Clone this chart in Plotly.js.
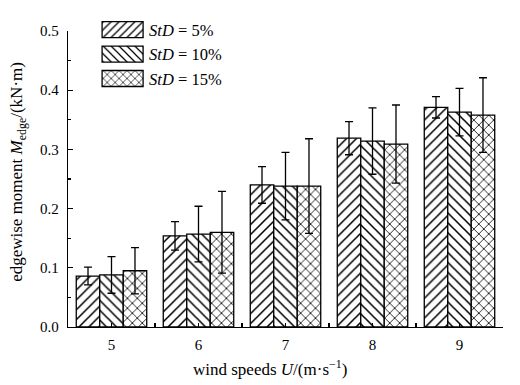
<!DOCTYPE html>
<html><head><meta charset="utf-8">
<script src="https://cdn.plot.ly/plotly-3.0.1.min.js"></script>
<style>html,body{margin:0;padding:0;background:#fff}#chart{width:520px;height:385px}</style>
</head><body><div id="chart"></div>
<script>
const windSpeeds = [5, 6, 7, 8, 9];
const seriesNames = ['<i>StD</i> = 5%', '<i>StD</i> = 10%', '<i>StD</i> = 15%'];
const std5 = [0.086, 0.154, 0.240, 0.319, 0.371];
const std5Err = [0.015, 0.024, 0.031, 0.028, 0.018];
const std10 = [0.088, 0.157, 0.238, 0.314, 0.363];
const std10Err = [0.031, 0.047, 0.057, 0.056, 0.040];
const std15 = [0.095, 0.160, 0.238, 0.309, 0.358];
const std15Err = [0.039, 0.069, 0.080, 0.066, 0.063];
const shapes = ['/', '\\', 'x'];
const values = [std5, std10, std15];
const errors = [std5Err, std10Err, std15Err];

const font = 'Liberation Serif, Times New Roman, serif';
const traces = values.map((v, i) => ({
  type: 'bar', x: windSpeeds, y: v, name: seriesNames[i],
  marker: {color: '#fff', line: {color: '#000', width: 1.3},
           pattern: {shape: shapes[i], fgcolor: '#000', bgcolor: '#fff', size: 7, solidity: 0.22}},
  error_y: {type: 'data', array: errors[i], visible: true, color: '#000', thickness: 1.3, width: 4}
}));

const layout = {
  width: 520, height: 385,
  margin: {l: 68, r: 17, t: 20, b: 58},
  paper_bgcolor: '#fff', plot_bgcolor: '#fff',
  font: {family: font, size: 15, color: '#000'},
  barmode: 'group', bargap: 0.19, bargroupgap: 0,
  showlegend: true,
  legend: {x: 0.0485, y: 1.063, xanchor: 'left', yanchor: 'top', bgcolor: 'rgba(0,0,0,0)',
           font: {family: font, size: 16.5}, itemwidth: 50, tracegroupgap: 0},
  xaxis: {range: [4.5, 9.5], tickvals: windSpeeds, ticktext: windSpeeds.map(String),
          showline: true, linecolor: '#000', linewidth: 1.3, showgrid: false, zeroline: false,
          ticks: 'inside', ticklen: 4, tickwidth: 1.3, tickcolor: '#000', ticklabelstandoff: 4,
          minor: {dtick: 0.5, tick0: 4.5, ticks: 'inside', ticklen: 4, tickwidth: 1.3, tickcolor: '#000'},
          tickfont: {size: 15}},
  yaxis: {range: [0, 0.5], dtick: 0.1, tickformat: '.1f', showline: true, linecolor: '#000', linewidth: 1.3,
          showgrid: false, zeroline: false, ticks: 'inside', ticklen: 5, tickwidth: 1.3, tickcolor: '#000',
          ticklabelstandoff: 5,
          minor: {dtick: 0.05, ticks: 'inside', ticklen: 3, tickwidth: 1.3, tickcolor: '#000'},
          tickfont: {size: 15}},
  annotations: [
    {xref: 'paper', yref: 'paper', x: 0.465, y: -0.14, xanchor: 'center', yanchor: 'middle',
     showarrow: false, text: 'wind speeds <i>U</i>/(m·s<sup>−1</sup>)', font: {size: 17}},
    {xref: 'paper', yref: 'paper', x: -0.115, y: 0.524, xanchor: 'center', yanchor: 'middle', textangle: -90,
     showarrow: false, text: 'edgewise moment <i>M</i><sub>edge</sub>/(kN·m)', font: {size: 17}}
  ]
};

Plotly.newPlot('chart', traces, layout, {staticPlot: true}).then(() => {
  document.querySelectorAll('.legend .legendpoints path').forEach(p => {
    p.setAttribute('d', 'M-17,-8H24V8H-17Z');
  });
});
</script></body></html>
